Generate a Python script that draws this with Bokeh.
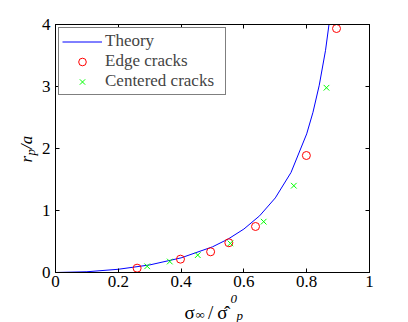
import math
from bokeh.plotting import figure
from bokeh.models import Range1d, LinearAxis, FixedTicker, Label, Legend, LegendItem
from bokeh.embed import file_html
from bokeh.resources import INLINE

# ---- data ----
theory_x = [0.0, 0.1, 0.2, 0.3, 0.4, 0.5, 0.55, 0.6, 0.65, 0.7, 0.75, 0.8, 0.82, 0.84, 0.86, 0.88]
theory_y = [0.0, 0.012, 0.052, 0.122, 0.236, 0.414, 0.540, 0.701, 0.914, 1.203, 1.613, 2.236, 2.584, 3.021, 3.584, 4.34]

edge_x = [0.260, 0.398, 0.494, 0.552, 0.637, 0.799, 0.895]
edge_y = [0.07, 0.215, 0.334, 0.48, 0.742, 1.887, 3.935]

center_x = [0.292, 0.364, 0.453, 0.557, 0.663, 0.759, 0.863]
center_y = [0.10, 0.177, 0.28, 0.47, 0.82, 1.40, 2.98]

x_ticks = [0, 0.2, 0.4, 0.6, 0.8, 1]
y_ticks = [0, 1, 2, 3, 4]
x_tick_labels = {0: "0", 0.2: "0.2", 0.4: "0.4", 0.6: "0.6", 0.8: "0.8", 1: "1"}

series_names = ["Theory", "Edge cracks", "Centered cracks"]

FONT = "Liberation Serif"
FL, FR, FT, FB = 55, 39, 24, 50
W, H = 408, 322

p = figure(width=W, height=H, output_backend="svg", toolbar_location=None,
           x_range=Range1d(0, 1), y_range=Range1d(0, 4),
           min_border_left=FL, min_border_right=FR, min_border_top=FT, min_border_bottom=FB,
           x_axis_location=None, y_axis_location=None)
p.grid.visible = False
p.outline_line_color = "black"
p.outline_line_width = 1
p.background_fill_color = "white"
p.border_fill_color = "white"

def style_axis(ax, labels=True):
    ax.major_tick_in = 4
    ax.major_tick_out = 0
    ax.minor_tick_line_color = None
    ax.axis_line_color = "black"
    ax.major_tick_line_color = "black"
    ax.major_label_text_font = FONT
    if labels:
        ax.major_label_text_font_size = "17px"
        ax.major_label_text_color = "black"
    else:
        ax.major_label_text_font_size = "0px"
        ax.major_label_text_color = None
        ax.major_label_standoff = 0

xb = LinearAxis(ticker=FixedTicker(ticks=x_ticks), major_label_overrides=x_tick_labels)
style_axis(xb)
xb.major_label_standoff = 3
p.add_layout(xb, "below")
yl = LinearAxis(ticker=FixedTicker(ticks=y_ticks))
style_axis(yl)
yl.major_label_standoff = 5
p.add_layout(yl, "left")
xt = LinearAxis(ticker=FixedTicker(ticks=x_ticks))
style_axis(xt, labels=False)
p.add_layout(xt, "above")
yr = LinearAxis(ticker=FixedTicker(ticks=y_ticks))
style_axis(yr, labels=False)
p.add_layout(yr, "right")

r_th = p.line(theory_x, theory_y, line_color="#0000ff", line_width=1)
r_ed = p.scatter(edge_x, edge_y, marker="circle", size=8, fill_color=None,
                 line_color="#ff0000", line_width=1)
r_ce = p.scatter(center_x, center_y, marker="x", size=8, line_color="#00ff00", line_width=1)

legend = Legend(items=[LegendItem(label=series_names[0], renderers=[r_th]),
                       LegendItem(label=series_names[1], renderers=[r_ed]),
                       LegendItem(label=series_names[2], renderers=[r_ce])],
                location="top_left", margin=3, padding=3, spacing=0,
                label_height=19, glyph_height=19, glyph_width=40, label_standoff=3,
                label_width=117,
                label_text_font=FONT, label_text_font_size="17px",
                border_line_color="black", border_line_width=1,
                background_fill_color="white", background_fill_alpha=1)
p.add_layout(legend)

def lab(side, text, cx, cy, size="17px", style="normal", angle=0.0, font=FONT):
    p.add_layout(Label(x=cx, y=cy, x_units="canvas", y_units="canvas",
                       text=text, text_font=font, text_font_size=size,
                       text_font_style=style, text_baseline="alphabetic",
                       text_align="left", angle=angle, text_color="black"), side)

# x-axis label: sigma_inf / sigma-hat^0_p  (pieces spread over side panels)
lab("below", "σ\u2002\u2009/\u2009σ̂", 184, 312, "19px")
lab("right", "∞", 195, 314, "13px")
lab("right", "0", 230, 298, "13px", "italic")
lab("right", "p", 236, 315, "13px", "italic")

# y-axis label: r_p / a (rotated)
A = math.pi / 2
lab("left", "r\u2009\u2009/a", 26, 162, "17px", "italic", A)
lab("left", "p", 30, 155, "13px", "italic", A)

open("out.html", "w").write(file_html(p, INLINE))
